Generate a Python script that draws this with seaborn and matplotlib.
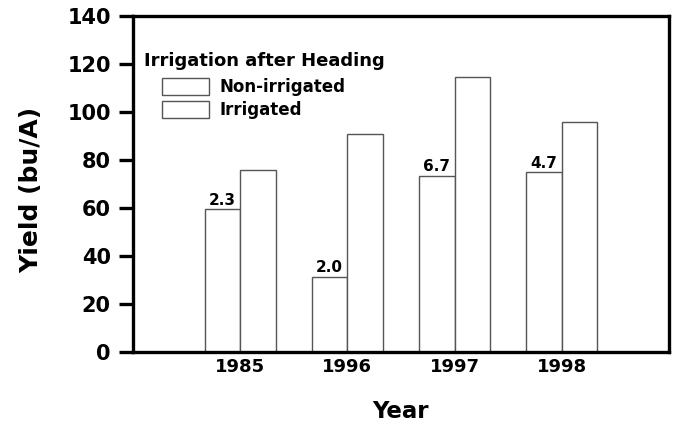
import pandas as pd
import seaborn as sns
import matplotlib.pyplot as plt

# values
years = ['1985', '1996', '1997', '1998']
non_irrigated = [59.5, 31.5, 73.5, 75]
irrigated = [76, 90.7, 114.6, 96]
notes = ['2.3', '2.0', '6.7', '4.7']
treatments = ['Non-irrigated', 'Irrigated']

df = pd.DataFrame({
    'Year': years * 2,
    'Yield': non_irrigated + irrigated,
    'Treatment': [treatments[0]] * 4 + [treatments[1]] * 4,
})

sns.set_style('white')
plt.rcParams['font.family'] = ['DejaVu Sans']
plt.rcParams['font.weight'] = 'bold'
plt.rcParams['text.color'] = 'black'
plt.rcParams['axes.labelcolor'] = 'black'
plt.rcParams['xtick.color'] = 'black'
plt.rcParams['ytick.color'] = 'black'

fig = plt.figure(figsize=(6.76, 4.23), dpi=100)
ax = fig.add_axes([0.1967, 0.1667, 0.7929, 0.7955])

edge = '#555555'
sns.barplot(data=df, x='Year', y='Yield', hue='Treatment', hue_order=treatments,
            palette=['white', 'white'], edgecolor=edge, linewidth=1,
            width=0.662, errorbar=None, ax=ax)

# numbers above the non-irrigated bars
for bar, txt in zip(ax.containers[0], notes):
    ax.annotate(txt, (bar.get_x() + bar.get_width() / 2, bar.get_height()),
                xytext=(0, 1), textcoords='offset points',
                ha='center', va='bottom', fontsize=11, fontweight='bold')

ax.set_xlim(-1, 4)
ax.set_ylim(0, 140)
ax.set_yticks(range(0, 141, 20))

for s in ax.spines.values():
    s.set_visible(True)
    s.set_linewidth(2.4)
    s.set_color('black')

ax.tick_params(axis='y', direction='out', length=10, width=2.4, pad=6,
               labelsize=15, left=True, colors='black')
ax.tick_params(axis='x', length=0, pad=4, labelsize=13, colors='black')
for lab in ax.get_xticklabels() + ax.get_yticklabels():
    lab.set_fontweight('bold')

ax.set_xlabel('Year', fontsize=16.5, fontweight='bold', labelpad=17)
ax.set_ylabel('Yield (bu/A)', fontsize=18, fontweight='bold')
ax.yaxis.set_label_coords(-0.168, 0.483)

# legend
old = ax.get_legend()
handles = old.legend_handles
old.remove()
leg = ax.legend(handles, treatments, loc='upper left',
                bbox_to_anchor=(0.054, 0.816), frameon=False,
                borderpad=0, borderaxespad=0,
                handlelength=2.8, handleheight=1.2, labelspacing=0.27,
                handletextpad=0.66, prop={'weight': 'bold', 'size': 12})
for h in leg.get_patches():
    h.set_facecolor('white')
    h.set_edgecolor(edge)
    h.set_linewidth(1)
for t in leg.get_texts():
    t.set_color('black')
ax.text(0.02, 0.851, 'Irrigation after Heading', transform=ax.transAxes,
        fontsize=13, fontweight='bold', ha='left', va='baseline')

fig.savefig('out.png', dpi=100)
